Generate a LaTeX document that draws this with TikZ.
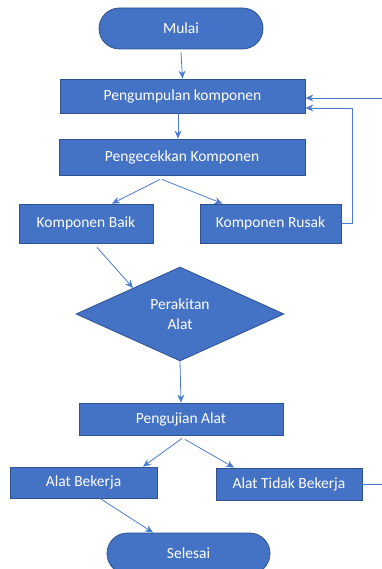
\documentclass[tikz,border=0pt]{standalone}
\usepackage{fontspec}
\setmainfont{Carlito}
\usetikzlibrary{shapes.geometric,arrows.meta,calc}
\definecolor{boxfill}{HTML}{4472C4}
\definecolor{boxline}{HTML}{2F528F}
\definecolor{arrowblue}{HTML}{4A7BD0}
\tikzset{
  base/.style={draw=boxline, fill=boxfill, line width=0.8pt, text=white, inner sep=0pt,
    font=\fontsize{15.5}{19}\selectfont},
  procbox/.style={base, rectangle},
  termbox/.style={base, rectangle, rounded corners=20.5pt, minimum width=164pt, minimum height=41pt},
  decbox/.style={base, diamond, minimum width=208pt, minimum height=94pt, align=center},
  flow/.style={draw=arrowblue, line width=0.8pt, -{Stealth[length=8pt,width=7pt]}},
  plainline/.style={draw=arrowblue, line width=0.8pt}
}
\begin{document}
\begin{tikzpicture}[x=1pt,y=-1pt]
\useasboundingbox (0,0) rectangle (382,569);
\clip (0,0) rectangle (382,569);
\node[termbox] (mulai) at (181,28.5) {Mulai};
\node[procbox, minimum width=245pt, minimum height=34pt] (kump) at (182.5,96) {Pengumpulan komponen};
\node[procbox, minimum width=246pt, minimum height=36pt] (cek) at (182,157) {Pengecekkan Komponen};
\node[procbox, minimum width=134pt, minimum height=39pt] (baik) at (86,223.5) {Komponen Baik};
\node[procbox, minimum width=141pt, minimum height=39pt] (rusak) at (270.5,223.5) {Komponen Rusak};
\node[decbox] (dia) at (180,314) {Perakitan\\[1pt]Alat};
\node[procbox, minimum width=204pt, minimum height=32pt] (uji) at (181,419) {Pengujian Alat};
\node[procbox, minimum width=147pt, minimum height=31pt] (kerja) at (83.5,482.5) {Alat Bekerja};
\node[procbox, minimum width=146pt, minimum height=32pt] (tidak) at (289,484) {Alat Tidak Bekerja};
\node[termbox, minimum width=163pt] (selesai) at (188.5,553.5) {Selesai};
\coordinate (rin) at (383,98);
\coordinate (rout) at (383,484);
% connectors
\draw[flow] ([yshift=-3pt]mulai.south) -- (kump.north);
\draw[flow] ([xshift=-4.5pt]kump.south) -- ([xshift=-4pt]cek.north);
\draw[flow] ([xshift=-22pt,yshift=-4pt]cek.south) -- ([xshift=26pt]baik.north);
\draw[flow] ([xshift=-20pt,yshift=-4pt]cek.south) -- ([xshift=-48pt]rusak.north);
\draw[flow] ([xshift=11pt,yshift=-4pt]baik.south) -- ($(dia.west)!0.55!(dia.north)$);
\draw[flow] (dia.south) -- (uji.north);
\draw[flow] ([xshift=1pt,yshift=-3pt]uji.south) -- ([xshift=59.5pt]kerja.north);
\draw[flow] ([xshift=4pt,yshift=-4pt]uji.south) -- ([xshift=-55pt]tidak.north);
\draw[flow] ([xshift=16.5pt]kerja.south) -- ([xshift=-35.5pt]selesai.north);
\draw[flow] (rusak.east) -- (352,223.5) |- ([yshift=-12pt]kump.east);
\draw[flow] (rin) -- ([yshift=-2pt]kump.east);
\draw[plainline] (tidak.east) -- (rout);
\end{tikzpicture}
\end{document}
